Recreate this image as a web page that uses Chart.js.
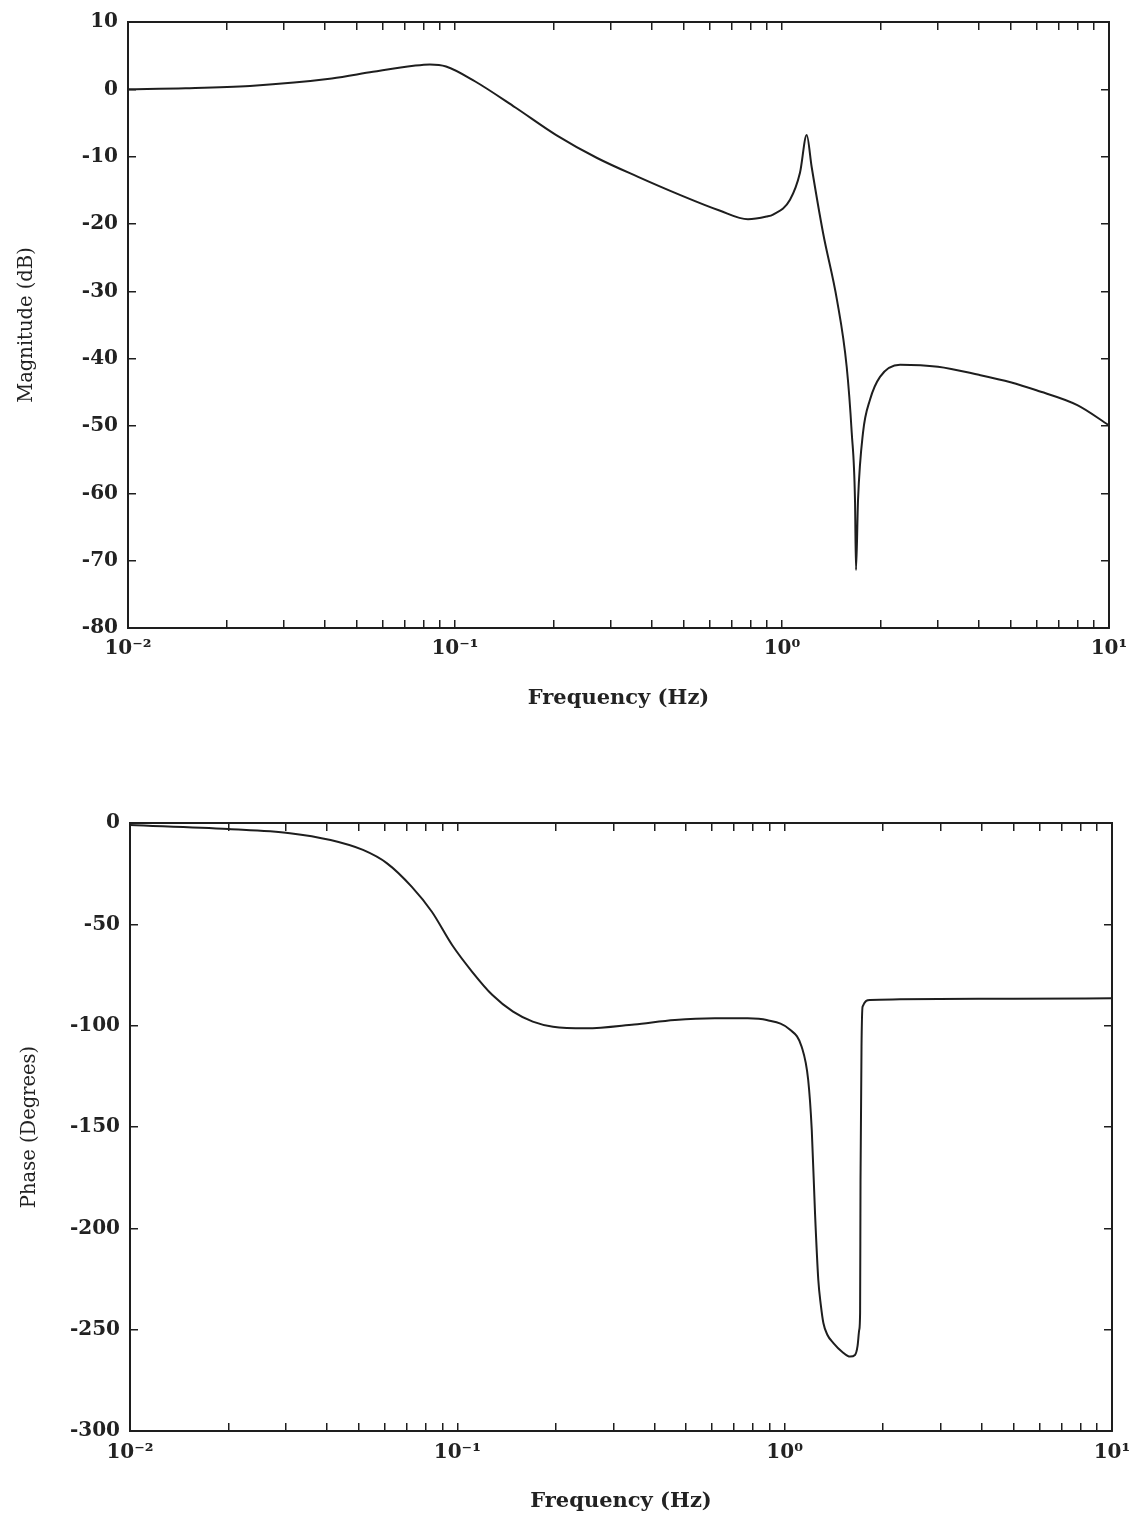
<!DOCTYPE html>
<html>
<head>
<meta charset="utf-8">
<script src="https://cdn.jsdelivr.net/npm/chart.js@4.4.1/dist/chart.umd.min.js"></script>
<style>
  html, body { margin: 0; padding: 0; background: #fff; }
  body { width: 1134px; height: 1518px; position: relative; overflow: hidden; }
  .box { position: absolute; left: 0; }
</style>
</head>
<body>
<div class="box" style="top:0px"><canvas id="mag" width="1134" height="740"></canvas></div>
<div class="box" style="top:760px"><canvas id="phase" width="1134" height="758"></canvas></div>
<script>
// magnitude curve (Hz, dB)
var magFreq = [0.01, 0.015, 0.0236, 0.042, 0.0561, 0.0747, 0.0838, 0.0939, 0.115, 0.153, 0.204, 0.272, 0.363, 0.483, 0.644, 0.787, 0.897, 0.939, 1.058, 1.135, 1.19, 1.232, 1.335, 1.473, 1.577, 1.634, 1.672, 1.684, 1.708, 1.769, 1.858, 1.994, 2.296, 3, 4, 5, 6, 8, 10];
var magDb = [0, 0.15, 0.5, 1.6, 2.6, 3.5, 3.7, 3.4, 1.2, -2.7, -6.8, -10.2, -13.0, -15.6, -18.0, -19.3, -18.9, -18.6, -16.4, -12.4, -6.8, -11.5, -21.3, -31.3, -41.2, -51, -61, -71.4, -61, -51, -46.1, -42.7, -40.9, -41.2, -42.4, -43.5, -44.7, -46.9, -49.9];

// phase curve (Hz, degrees)
var phaseFreq = [0.01, 0.02, 0.0308, 0.041, 0.0515, 0.061, 0.0725, 0.0836, 0.0964, 0.111, 0.128, 0.148, 0.170, 0.196, 0.247, 0.347, 0.462, 0.612, 0.771, 0.881, 1.039, 1.127, 1.18, 1.21, 1.238, 1.267, 1.29, 1.313, 1.35, 1.409, 1.5, 1.585, 1.64, 1.67, 1.69, 1.70, 1.705, 1.717, 1.73, 1.824, 2.25, 5, 10];
var phaseDeg = [-1, -3, -5, -8.4, -13.3, -19.9, -31.4, -43.8, -60.2, -73.4, -84.9, -93.1, -98, -100.5, -101.3, -99.4, -97.2, -96.4, -96.4, -97.2, -102, -110.4, -126.8, -151.5, -192.5, -225.5, -238, -246.7, -252.5, -256.6, -261, -263.3, -262.5, -258, -250, -241.7, -176, -110.4, -90.6, -87.3, -87, -86.7, -86.5];

// axis ticks
var freqTickValues = [0.01, 0.1, 1, 10];
var freqTickLabels = ['10\u207B\u00B2', '10\u207B\u00B9', '10\u2070', '10\u00B9'];
var magRange = [-80, 10, 10];
var phaseRange = [-300, 0, 50];

Chart.defaults.font.family = "'DejaVu Serif', serif";
Chart.defaults.color = '#222';

var ink = '#1e1e1e';

function toPoints(xs, ys) {
  return xs.map(function(x, i) { return { x: x, y: ys[i] }; });
}

function logTicks(scale) {
  var t = [];
  for (var d = -2; d < 1; d++) {
    for (var m = 1; m < 10; m++) t.push({ value: m * Math.pow(10, d) });
  }
  t.push({ value: 10 });
  scale.ticks = t;
}

function freqLabel(v) {
  for (var i = 0; i < freqTickValues.length; i++) {
    if (Math.abs(v - freqTickValues[i]) / freqTickValues[i] < 1e-6) return freqTickLabels[i];
  }
  return '';
}

function makeChart(id, xs, ys, range, yTitle, L) {
  var grid = { drawOnChartArea: false, drawTicks: true, tickLength: -8, color: ink, lineWidth: 1.5 };
  var border = { color: ink, width: 2 };
  return new Chart(document.getElementById(id), {
    type: 'line',
    data: {
      datasets: [{
        data: toPoints(xs, ys),
        borderColor: ink,
        borderWidth: 2,
        pointRadius: 0,
        cubicInterpolationMode: 'monotone',
        fill: false
      }]
    },
    options: {
      responsive: false,
      animation: false,
      layout: { padding: { top: L.top, right: L.right, left: 0, bottom: 0 } },
      plugins: { legend: { display: false }, tooltip: { enabled: false } },
      scales: {
        x: {
          type: 'logarithmic', position: 'bottom', min: 0.01, max: 10,
          afterBuildTicks: logTicks,
          afterFit: function(s) { s.height = L.xHeight; s.paddingLeft = 0; s.paddingRight = 0; },
          grid: grid, border: border,
          ticks: { autoSkip: false, maxRotation: 0, padding: L.xPad,
                   font: { size: 20, weight: 'bold' }, callback: function(v) { return freqLabel(v); } },
          title: { display: true, text: 'Frequency (Hz)', font: { size: 21, weight: 'bold' },
                   padding: { top: 0, bottom: L.xTitlePad } }
        },
        x2: {
          type: 'logarithmic', position: 'top', min: 0.01, max: 10,
          afterBuildTicks: logTicks,
          afterFit: function(s) { s.height = 0; s.paddingLeft = 0; s.paddingRight = 0; },
          grid: grid, border: border,
          ticks: { display: false }
        },
        y: {
          type: 'linear', position: 'left', min: range[0], max: range[1],
          afterFit: function(s) { s.width = L.left; s.paddingTop = 0; s.paddingBottom = 0; },
          grid: grid, border: border,
          ticks: { stepSize: range[2], padding: 18, font: { size: 20, weight: 'bold' } },
          title: { display: true, text: yTitle, font: { size: 19.5 },
                   padding: { top: L.yTitlePad, bottom: 0 } }
        },
        y2: {
          type: 'linear', position: 'right', min: range[0], max: range[1],
          afterFit: function(s) { s.width = 0; s.paddingTop = 0; s.paddingBottom = 0; },
          grid: grid, border: border,
          ticks: { stepSize: range[2], display: false }
        }
      }
    }
  });
}

makeChart('mag', magFreq, magDb, magRange, 'Magnitude (dB)',
  { top: 22, right: 25, left: 128, xHeight: 112, xPad: 17, xTitlePad: 29, yTitlePad: 15 });
makeChart('phase', phaseFreq, phaseDeg, phaseRange, 'Phase (Degrees)',
  { top: 63, right: 22, left: 130, xHeight: 87, xPad: 18, xTitlePad: 4, yTitlePad: 18 });
</script>
</body>
</html>
